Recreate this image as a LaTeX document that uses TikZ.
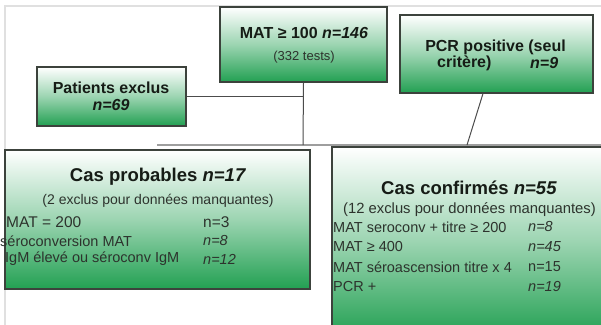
\documentclass[tikz,border=0pt]{standalone}
\usepackage{fontspec}
\setmainfont{Liberation Sans}
\usetikzlibrary{calc}
\definecolor{boxgreen}{RGB}{34,160,82}
\definecolor{txt}{RGB}{22,28,22}
\definecolor{boxline}{RGB}{60,66,60}
\begin{document}
\begin{tikzpicture}[x=1pt,y=-1pt,
  gbox/.style={draw=boxline, line width=1.1pt, inner sep=0pt,
    top color=white, bottom color=boxgreen, middle color=boxgreen!45!white},
  conn/.style={draw=black!70, line width=1pt},
  bar/.style={draw=black!38, line width=2.2pt},
  tsmall/.style={font=\bfseries\fontsize{16}{19}\selectfont, text=txt, inner sep=0pt},
  tbig/.style={font=\bfseries\fontsize{18.5}{22}\selectfont, text=txt, inner sep=0pt},
  tsub/.style={font=\fontsize{14}{17}\selectfont, text=txt!90, inner sep=0pt},
  trow/.style={font=\fontsize{14.5}{17}\selectfont, text=txt!90, inner sep=0pt, anchor=west},
  trowbig/.style={font=\fontsize{15.5}{18}\selectfont, text=txt!90, inner sep=0pt, anchor=west}]
\useasboundingbox (0,0) rectangle (601,324);
\clip (0,0) rectangle (601,324);
\fill[white] (0,0) rectangle (601,324);
% faint outer frame
\draw[black!12, line width=1.2pt] (5,330) -- (5,6) -- (610,6);

% boxes
\node[gbox, minimum width=167pt, minimum height=75pt] (mat) at (303.5,44.5) {};
\node[gbox, minimum width=193pt, minimum height=78pt] (pcr) at (496.5,54) {};
\node[gbox, minimum width=149pt, minimum height=59pt] (pat) at (111.5,96.5) {};

% connectors
\coordinate (barL) at (157,145);
\coordinate (barR) at (610,145);
\coordinate (jmat) at (303,145);
\coordinate (jpcr) at (467,145);
\coordinate (pcrfoot) at ($(pcr.south)+(-13.5,0)$);
\draw[bar] (barL) -- (barR);
\draw[conn] (mat.south) -- (jmat);
\draw[conn] (pat.east) -- (pat.east -| mat.south);
\draw[conn] (pcrfoot) -- (jpcr);

\node[gbox, minimum width=305pt, minimum height=139pt] (prob) at (157.5,219.5) {};
\node[gbox, minimum width=280pt, minimum height=190pt] (conf) at (472,242) {};

% texts of small boxes
\node[tsmall] (matT) at (304,33) {MAT ≥ 100 \textit{n=146}};
\node[tsub, font=\fontsize{13}{15}\selectfont] (matS) at (304,57) {(332 tests)};
\node[tsmall] (patT) at (111,88) {Patients exclus};
\node[tsmall] (patN) at (111,105) {\textit{n=69}};
\node[tsmall] (pcrT) at (495.5,47) {PCR positive (seul};
\node[tsmall, anchor=west] (pcrC) at (437,63) {critère)};
\node[tsmall, anchor=west] (pcrN) at (530,63) {\textit{n=9}};

% Cas probables
\node[tbig] (probT) at (158,177) {Cas probables \textit{n=17}};
\node[tsub] (probS) at (158,201) {(2 exclus pour données manquantes)};
\node[trowbig] (p1) at (6,222) {MAT = 200};
\node[trowbig] (p1n) at (203,222) {n=3};
\node[trow] (p2) at (0,241) {séroconversion MAT};
\node[trow] (p2n) at (203,241) {\textit{n=8}};
\node[trow] (p3) at (5,259) {IgM élevé ou séroconv IgM};
\node[trow] (p3n) at (203,259) {\textit{n=12}};

% Cas confirmés
\node[tbig] (confT) at (469,188) {Cas confirmés \textit{n=55}};
\node[tsub, font=\fontsize{14.8}{17}\selectfont] (confS) at (469.5,210) {(12 exclus pour données manquantes)};
\node[trow] (c1) at (333,227) {MAT seroconv + titre ≥ 200};
\node[trow] (c1n) at (528,227) {\textit{n=8}};
\node[trow] (c2) at (333,247) {MAT ≥ 400};
\node[trow] (c2n) at (528,247) {\textit{n=45}};
\node[trow] (c3) at (333,267) {MAT séroascension titre x 4};
\node[trow] (c3n) at (528,267) {n=15};
\node[trow] (c4) at (333,287) {PCR +};
\node[trow] (c4n) at (528,287) {\textit{n=19}};
\end{tikzpicture}
\end{document}
